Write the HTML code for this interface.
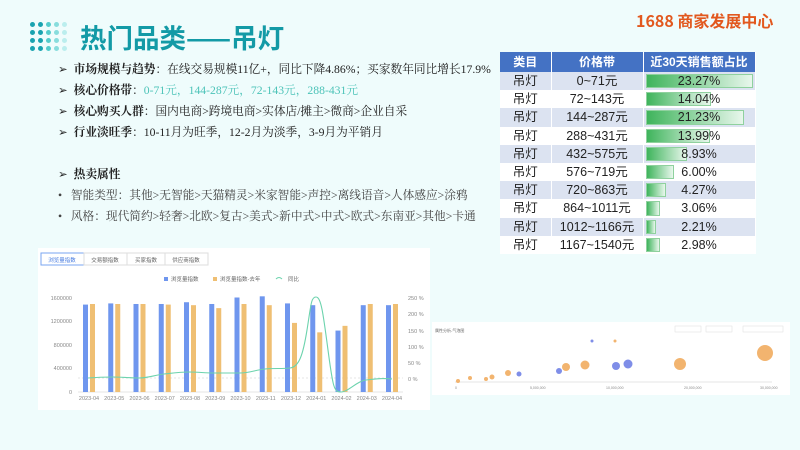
<!DOCTYPE html>
<html><head><meta charset="utf-8"><style>
body{margin:0;width:800px;height:450px;background:#effcfc;position:relative;overflow:hidden;font-family:"Liberation Sans","Noto Sans CJK SC",sans-serif}
.t{position:absolute;white-space:nowrap}
.dots{position:absolute;left:30px;top:22px}
.dots i{position:absolute;width:5px;height:5px;border-radius:50%}
.b{font-size:11.7px;color:#222;font-family:"Liberation Serif","Noto Serif CJK SC",serif}
.b b{font-family:"Noto Serif CJK SC",serif}
table{position:absolute;left:500px;top:52px;border-collapse:collapse;font-size:12.5px;line-height:14px;font-family:"Liberation Sans","Noto Sans CJK SC",sans-serif}
td,th{height:18.2px;padding:0;text-align:center;color:#222;border-right:1px solid #fff;box-sizing:border-box}
th{background:#4472c4;color:#fff;font-size:12px;height:20px}
tr:nth-child(even) td{background:#dce3f1}
tr:nth-child(odd) td{background:#fff}
td.c{position:relative}
td.c span{position:absolute;left:2px;top:2px;bottom:2px;background:linear-gradient(90deg,#3fb45c,#e8f7ec);border:1px solid #8fd19e;box-sizing:border-box}
td.c em{position:relative;font-style:normal}
</style></head><body>
<div class="dots">
<i style="left:0;top:0;background:#1aa3b0"></i><i style="left:8px;top:0;background:#1aa3b0"></i><i style="left:16px;top:0;background:#5cc"></i><i style="left:24px;top:0;background:#8dd"></i><i style="left:32px;top:0;background:#bee"></i>
<i style="left:0;top:8px;background:#1aa3b0"></i><i style="left:8px;top:8px;background:#1aa3b0"></i><i style="left:16px;top:8px;background:#5cc"></i><i style="left:24px;top:8px;background:#8dd"></i><i style="left:32px;top:8px;background:#bee"></i>
<i style="left:0;top:16px;background:#1aa3b0"></i><i style="left:8px;top:16px;background:#1aa3b0"></i><i style="left:16px;top:16px;background:#5cc"></i><i style="left:24px;top:16px;background:#8dd"></i><i style="left:32px;top:16px;background:#bee"></i>
<i style="left:0;top:24px;background:#1aa3b0"></i><i style="left:8px;top:24px;background:#1aa3b0"></i><i style="left:16px;top:24px;background:#5cc"></i><i style="left:24px;top:24px;background:#8dd"></i><i style="left:32px;top:24px;background:#bee"></i>
</div>
<div class="t" style="left:80px;top:19px;font-size:26.5px;line-height:36px;font-weight:bold;color:#139aa6;font-family:'Noto Sans CJK SC',sans-serif">热门品类——吊灯</div>
<div class="t" style="left:636px;top:8px;font-size:16px;font-weight:bold;color:#e2581e;font-family:'Noto Sans CJK SC',sans-serif">1688 商家发展中心</div>

<div class="t b" style="left:58px;top:61px">➢&nbsp; <b>市场规模与趋势</b>：在线交易规模11亿+，同比下降4.86%；买家数年同比增长17.9%</div>
<div class="t b" style="left:58px;top:82px">➢&nbsp; <b>核心价格带</b>：<span style="color:#4cc3b8">0-71元，144-287元，72-143元，288-431元</span></div>
<div class="t b" style="left:58px;top:103px">➢&nbsp; <b>核心购买人群</b>：国内电商>跨境电商>实体店/摊主>微商>企业自采</div>
<div class="t b" style="left:58px;top:124px">➢&nbsp; <b>行业淡旺季</b>：10-11月为旺季，12-2月为淡季，3-9月为平销月</div>
<div class="t b" style="left:58px;top:166px">➢&nbsp; <b>热卖属性</b></div>
<div class="t b" style="left:58px;top:187px;color:#444">•&nbsp;&nbsp; 智能类型：其他>无智能>天猫精灵>米家智能>声控>离线语音>人体感应>涂鸦</div>
<div class="t b" style="left:58px;top:208px;color:#444">•&nbsp;&nbsp; 风格：现代简约>轻奢>北欧>复古>美式>新中式>中式>欧式>东南亚>其他>卡通</div>

<table>
<tr><th style="width:51px">类目</th><th style="width:92px">价格带</th><th style="width:112px">近30天销售额占比</th></tr>
<tr><td>吊灯</td><td>0~71元</td><td class="c"><span style="width:107px"></span><em>23.27%</em></td></tr>
<tr><td>吊灯</td><td>72~143元</td><td class="c"><span style="width:65px"></span><em>14.04%</em></td></tr>
<tr><td>吊灯</td><td>144~287元</td><td class="c"><span style="width:98px"></span><em>21.23%</em></td></tr>
<tr><td>吊灯</td><td>288~431元</td><td class="c"><span style="width:64px"></span><em>13.99%</em></td></tr>
<tr><td>吊灯</td><td>432~575元</td><td class="c"><span style="width:41px"></span><em>8.93%</em></td></tr>
<tr><td>吊灯</td><td>576~719元</td><td class="c"><span style="width:28px"></span><em>6.00%</em></td></tr>
<tr><td>吊灯</td><td>720~863元</td><td class="c"><span style="width:20px"></span><em>4.27%</em></td></tr>
<tr><td>吊灯</td><td>864~1011元</td><td class="c"><span style="width:14px"></span><em>3.06%</em></td></tr>
<tr><td>吊灯</td><td>1012~1166元</td><td class="c"><span style="width:10px"></span><em>2.21%</em></td></tr>
<tr><td>吊灯</td><td>1167~1540元</td><td class="c"><span style="width:14px"></span><em>2.98%</em></td></tr>
</table>

<svg style="position:absolute;left:0;top:0" width="800" height="450" font-family="Liberation Sans,Noto Sans CJK SC,sans-serif">
<rect x="38" y="248" width="392" height="162" fill="#fff"/>
<rect x="41" y="253" width="43" height="12" fill="#fff" stroke="#7aa6f0"/>
<text x="62" y="262" font-size="5.5" fill="#4a7de0" text-anchor="middle">浏览量指数</text>
<rect x="84" y="253" width="43" height="12" fill="#fff" stroke="#ddd"/><text x="105" y="262" font-size="5.5" fill="#666" text-anchor="middle">交易额指数</text>
<rect x="127" y="253" width="38" height="12" fill="#fff" stroke="#ddd"/><text x="146" y="262" font-size="5.5" fill="#666" text-anchor="middle">买家指数</text>
<rect x="165" y="253" width="43" height="12" fill="#fff" stroke="#ddd"/><text x="186" y="262" font-size="5.5" fill="#666" text-anchor="middle">供应商指数</text>
<rect x="164" y="277" width="4" height="4" fill="#6f96ee"/><text x="171" y="281" font-size="5.5" fill="#666">浏览量指数</text>
<rect x="213" y="277" width="4" height="4" fill="#efbf73"/><text x="220" y="281" font-size="5.5" fill="#666">浏览量指数-去年</text>
<path d="M276 279q3-3 6 0" stroke="#6cd3ad" fill="none"/><text x="288" y="281" font-size="5.5" fill="#666">同比</text>
<g font-size="5.5" fill="#888" text-anchor="end">
<text x="72" y="300">1600000</text><text x="72" y="323">1200000</text><text x="72" y="347">800000</text><text x="72" y="370">400000</text><text x="72" y="394">0</text></g>
<g font-size="5.5" fill="#888">
<text x="408" y="300">250 %</text><text x="408" y="316">200 %</text><text x="408" y="333">150 %</text><text x="408" y="349">100 %</text><text x="408" y="365">50 %</text><text x="408" y="381">0 %</text></g>
<line x1="78" y1="392" x2="403" y2="392" stroke="#ccc" stroke-width="0.6"/>
<line x1="78" y1="378" x2="403" y2="378" stroke="#ccc" stroke-dasharray="2 2" stroke-width="0.6"/>
<g id="bars"></g>
<path d="M88 378 C100 377 105 377 113 377 S130 378 139 378 S155 375 164 374 S180 372 189 372 S205 373 214 373 S230 373 240 373 S255 370 265 369 S281 369 290 368 S303 355 307 330 S311 297 316 297 S323 312 328 350 S334 392 341 392 S357 381 366 380 S382 378 392 379" stroke="#6cd3ad" stroke-width="1.1" fill="none"/>
<g font-size="5.5" fill="#888" text-anchor="middle" id="xl"></g>

<rect x="432" y="322" width="358" height="73" fill="#fff"/>
<text x="435" y="332" font-size="4" fill="#666">属性分析-气泡图</text>
<rect x="675" y="326" width="26" height="6" fill="#fff" stroke="#ddd" stroke-width="0.5"/>
<rect x="706" y="326" width="26" height="6" fill="#fff" stroke="#ddd" stroke-width="0.5"/>
<rect x="743" y="326" width="40" height="6" fill="#fff" stroke="#ddd" stroke-width="0.5"/>
<circle cx="592" cy="341" r="1.5" fill="#7f8ee8"/><circle cx="615" cy="341" r="1.5" fill="#f2b46f"/>
<line x1="455" y1="382" x2="772" y2="382" stroke="#ccc" stroke-width="0.5"/>
<g font-size="3.5" fill="#888"><text x="455" y="389">0</text><text x="530" y="389">5,000,000</text><text x="606" y="389">10,000,000</text><text x="684" y="389">20,000,000</text><text x="760" y="389">30,000,000</text></g>
<g fill="#f2b46f"><circle cx="458" cy="381" r="2"/><circle cx="470" cy="378" r="2"/><circle cx="486" cy="379" r="2"/><circle cx="492" cy="377" r="2.5"/><circle cx="508" cy="373" r="3"/><circle cx="566" cy="367" r="4"/><circle cx="585" cy="365" r="4.5"/><circle cx="680" cy="364" r="6"/><circle cx="765" cy="353" r="8"/></g>
<g fill="#7f8ee8"><circle cx="519" cy="374" r="2.5"/><circle cx="559" cy="371" r="3"/><circle cx="616" cy="366" r="4"/><circle cx="628" cy="364" r="4.5"/></g>
</svg>
<script>
var b=[1480,1500,1490,1490,1520,1490,1600,1620,1500,1470,1040,1470,1470],o=[1490,1490,1490,1480,1470,1420,1490,1470,1170,1010,1120,1490,1490];
var m=['2023-04','2023-05','2023-06','2023-07','2023-08','2023-09','2023-10','2023-11','2023-12','2024-01','2024-02','2024-03','2024-04'];
var s='',x='';for(var i=0;i<13;i++){var c=89+i*25.25;var hb=b[i]/1600*94.5,ho=o[i]/1600*94.5;
s+='<rect x="'+(c-6)+'" y="'+(392-hb)+'" width="5" height="'+hb+'" fill="#6f96ee"/><rect x="'+(c+1)+'" y="'+(392-ho)+'" width="5" height="'+ho+'" fill="#efbf73"/>';
x+='<text x="'+c+'" y="400">'+m[i]+'</text>';}
document.getElementById('bars').innerHTML=s;document.getElementById('xl').innerHTML=x;
</script>
</body></html>
